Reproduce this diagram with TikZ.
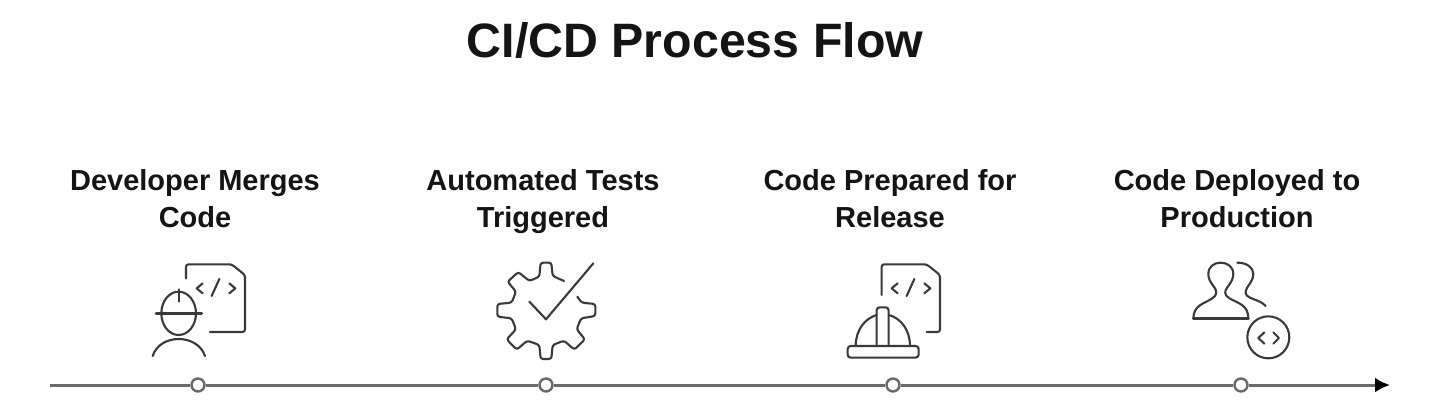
\documentclass[tikz,border=0pt]{standalone}
\usepackage{fontspec}
\setmainfont{Liberation Sans}
\usetikzlibrary{arrows.meta}
\definecolor{ink}{HTML}{141414}
\definecolor{iconink}{HTML}{3A3A3A}
\definecolor{axisgray}{HTML}{6A6A6A}
\tikzset{
  x=1pt,y=-1pt,
  titletext/.style={font=\fontsize{48.3}{50}\selectfont\bfseries,text=ink,anchor=base,inner sep=0pt},
  labeltext/.style={font=\fontsize{29}{29}\selectfont\bfseries,text=ink,anchor=base,inner sep=0pt},
  axisline/.style={draw=axisgray,line width=3pt},
  dotnode/.style={circle,draw=axisgray,fill=white,line width=2.4pt,minimum size=13pt,inner sep=0pt},
  iconline/.style={draw=iconink,line width=2.1pt,line cap=round,line join=round},
  zoomed/.style={x=0.3333pt,y=-0.3333pt},
}
\begin{document}
\begin{tikzpicture}
\useasboundingbox (0,0) rectangle (1440,400);
\fill[white] (0,0) rectangle (1440,400);
\node[titletext] (title) at (695,57) {CI/CD Process Flow};
\node[labeltext] (a1) at (195,190) {Developer Merges};
\node[labeltext] (a2) at (195,227) {Code};
\node[labeltext] (b1) at (543,190) {Automated Tests};
\node[labeltext] (b2) at (543,227) {Triggered};
\node[labeltext] (c1) at (890,190) {Code Prepared for};
\node[labeltext] (c2) at (890,227) {Release};
\node[labeltext] (d1) at (1237,190) {Code Deployed to};
\node[labeltext] (d2) at (1237,227) {Production};
% axis
\coordinate (axstart) at (50,385);
\coordinate (axend) at (1390,385);
\node[dotnode] (p1) at (198,385) {};
\node[dotnode] (p2) at (546,385) {};
\node[dotnode] (p3) at (893,385) {};
\node[dotnode] (p4) at (1241,385) {};
\draw[axisline] (axstart) -- (p1);
\draw[axisline] (p1) -- (p2);
\draw[axisline] (p2) -- (p3);
\draw[axisline] (p3) -- (p4);
\draw[axisline,-{Latex[length=15pt,width=15pt,color=black]}] (p4) -- (axend);
% icon 1: developer and code file
\begin{scope}[shift={(130,250)},zoomed]
\draw[iconline,rounded corners=2.5pt] (168,85) -- (168,43) -- (305,43) -- (345,75) -- (345,246) -- (240,246);
\draw[iconline] (218,100) -- (200,115) -- (218,130);
\draw[iconline] (268,87) -- (245,138);
\draw[iconline] (298,100) -- (316,115) -- (298,130);
\draw[iconline] (146,190) ellipse [x radius=52,y radius=65];
\draw[iconline,line width=2.8pt] (78,190) -- (215,190);
\draw[iconline] (146,118) -- (146,155);
\draw[iconline] (68,318) .. controls (90,250) and (202,250) .. (225,318);
\end{scope}
% icon 2: gear and check
\begin{scope}[shift={(480,250)},zoomed]
\draw[iconline,rounded corners=2.5pt] (252,93) -- (218,78) -- (214,38) -- (182,38) -- (178,80) -- (148,93) -- (115,66) -- (83,95) -- (108,125) -- (95,158) -- (52,162) -- (52,200) -- (95,205) -- (108,238) -- (80,268) -- (110,299) -- (142,272) -- (178,285) -- (182,327) -- (214,327) -- (218,285) -- (252,272) -- (283,299) -- (315,268) -- (290,238) -- (303,205) -- (346,198) -- (346,162) -- (305,158) -- (292,140);
\draw[iconline] (148,155) -- (198,208) -- (340,40);
\end{scope}
% icon 3: helmet and code file
\begin{scope}[shift={(825,250)},zoomed]
\draw[iconline,rounded corners=2.5pt] (170,135) -- (170,43) -- (305,43) -- (345,75) -- (345,246) -- (305,246);
\draw[iconline] (218,100) -- (200,115) -- (218,130);
\draw[iconline] (268,87) -- (245,138);
\draw[iconline] (298,100) -- (316,115) -- (298,130);
\draw[iconline,rounded corners=3pt] (68,288) rectangle (281,323);
\draw[iconline] (92,288) .. controls (92,240) and (120,205) .. (155,195);
\draw[iconline] (192,195) .. controls (228,205) and (255,240) .. (255,288);
\draw[iconline,rounded corners=3pt] (155,288) -- (155,172) -- (191,172) -- (191,288);
\end{scope}
% icon 4: users and code circle
\begin{scope}[shift={(1175,250)},zoomed]
\draw[iconline,line width=2.8pt] (55,205) -- (220,205);
\draw[iconline] (55,205) .. controls (55,165) and (90,160) .. (112,145) .. controls (128,135) and (125,122) .. (118,112) .. controls (105,95) and (100,85) .. (100,72) .. controls (100,50) and (117,38) .. (137,38) .. controls (157,38) and (175,50) .. (175,72) .. controls (175,85) and (168,98) .. (157,112) .. controls (149,122) and (146,135) .. (163,145) .. controls (190,160) and (220,165) .. (220,205);
\draw[iconline] (187,38) .. controls (215,38) and (235,52) .. (235,72) .. controls (235,88) and (225,100) .. (217,112) .. controls (210,125) and (208,135) .. (225,143) .. controls (240,150) and (262,155) .. (272,168);
\draw[iconline] (280,262) circle [radius=63];
\draw[iconline] (268,247) -- (250,264) -- (268,281);
\draw[iconline] (295,247) -- (312,264) -- (295,281);
\end{scope}
\end{tikzpicture}
\end{document}
